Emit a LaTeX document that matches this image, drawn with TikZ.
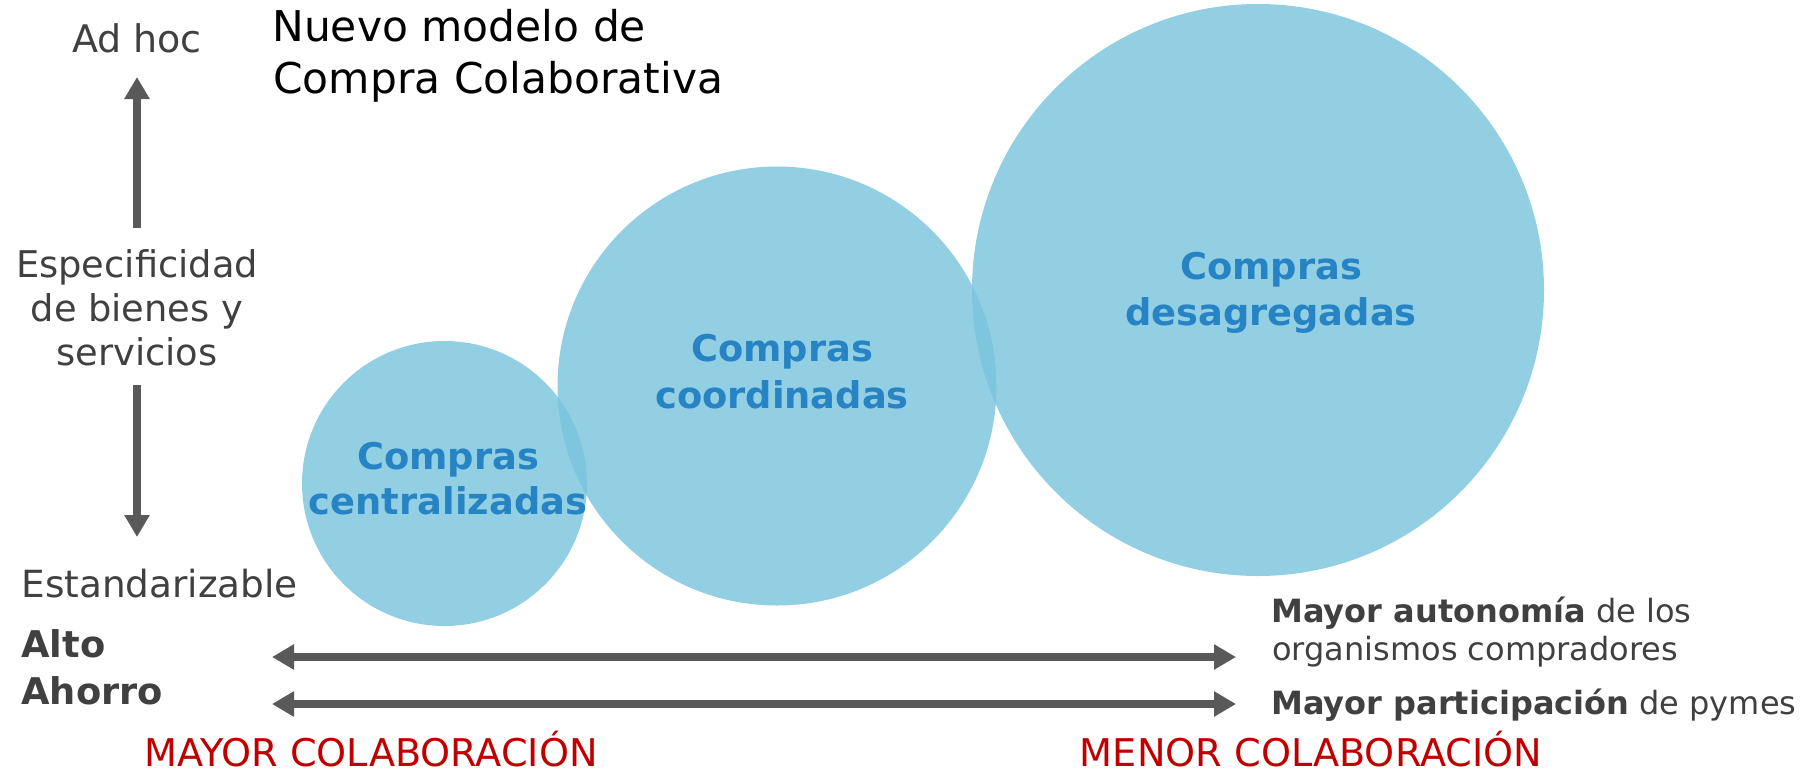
\documentclass[tikz,border=0pt]{standalone}
\usepackage{fontspec}
\setmainfont{DejaVu Sans}
\usetikzlibrary{arrows.meta}
\definecolor{circfill}{RGB}{121,196,221}
\definecolor{circtext}{RGB}{38,131,196}
\definecolor{lblgray}{RGB}{64,64,64}
\definecolor{arrgray}{RGB}{89,89,89}
\definecolor{redlbl}{RGB}{192,0,0}
\begin{document}
\begin{tikzpicture}[x=0.5pt,y=-0.5pt,
  bubble/.style={circle, fill=circfill, fill opacity=0.8, draw=none, inner sep=0pt},
  bubtext/.style={font=\fontsize{18.4}{22}\selectfont\bfseries, text=circtext, inner sep=0pt, anchor=base},
  lbl/.style={font=\fontsize{18.4}{22}\selectfont, text=lblgray, inner sep=0pt, anchor=base},
  lblbold/.style={font=\fontsize{18.4}{22}\selectfont\bfseries, text=lblgray, inner sep=0pt, anchor=base west},
  ttl/.style={font=\fontsize{21.2}{25}\selectfont, text=black, inner sep=0pt, anchor=base west},
  rtxt/.style={font=\fontsize{16}{19}\selectfont, text=lblgray, inner sep=0pt, anchor=base west},
  redtxt/.style={font=\fontsize{19.1}{22}\selectfont, text=redlbl, inner sep=0pt, anchor=base},
  bigarrow/.style={draw=arrgray, line width=4pt, -{Triangle[length=11pt,width=12pt]}},
  dblarrow/.style={draw=arrgray, line width=4pt, {Triangle[length=11pt,width=12pt]}-{Triangle[length=11pt,width=12pt]}}
]
\useasboundingbox (0,0) rectangle (1800,772);
\fill[white] (0,0) rectangle (1800,772);

% bubbles
\node[bubble, minimum size=142.5pt] (c1) at (444.5,483.5) {};
\node[bubble, minimum size=219.5pt] (c2) at (777,386) {};
\node[bubble, minimum size=286pt] (c3) at (1258,290) {};

% bubble texts
\node[bubtext] (t1a) at (448,469) {Compras};
\node[bubtext] (t1b) at (448,514) {centralizadas};
\node[bubtext] (t2a) at (782,361) {Compras};
\node[bubtext] (t2b) at (782,408) {coordinadas};
\node[bubtext] (t3a) at (1271,279) {Compras};
\node[bubtext] (t3b) at (1271,325) {desagregadas};

% title
\node[ttl] (ti1) at (272,41) {Nuevo modelo de};
\node[ttl] (ti2) at (273,93) {Compra Colaborativa};

% vertical axis
\node[lbl, font=\fontsize{19}{22}\selectfont] (adhoc) at (137,52) {Ad hoc};
\node[lbl] (esp1) at (137,277) {Especificidad};
\node[lbl] (esp2) at (137,321) {de bienes y};
\node[lbl] (esp3) at (137,365) {servicios};
\node[lbl, anchor=base west, font=\fontsize{18.7}{22}\selectfont] (estand) at (21,597) {Estandarizable};
\coordinate (upstart) at (137,228);
\coordinate (uptip) at (137,77);
\coordinate (dnstart) at (137,385);
\coordinate (dntip) at (137,537);
\draw[bigarrow] (upstart) -- (uptip);
\draw[bigarrow] (dnstart) -- (dntip);

% left labels
\node[lblbold] (alto) at (21,657) {Alto};
\node[lblbold] (ahorro) at (21,704) {Ahorro};

% horizontal arrows
\coordinate (h1l) at (272,657);
\coordinate (h1r) at (1236,657);
\coordinate (h2l) at (272,704);
\coordinate (h2r) at (1236,704);
\draw[dblarrow] (h1l) -- (h1r);
\draw[dblarrow] (h2l) -- (h2r);

% right labels
\node[rtxt] (r1) at (1271,622) {\textbf{Mayor autonomía} de los};
\node[rtxt] (r2) at (1272,660) {organismos compradores};
\node[rtxt] (r3) at (1271,714) {\textbf{Mayor participación} de pymes};

% red labels
\node[redtxt] (mayor) at (371,766) {MAYOR COLABORACIÓN};
\node[redtxt] (menor) at (1311,766) {MENOR COLABORACIÓN};
\end{tikzpicture}
\end{document}
